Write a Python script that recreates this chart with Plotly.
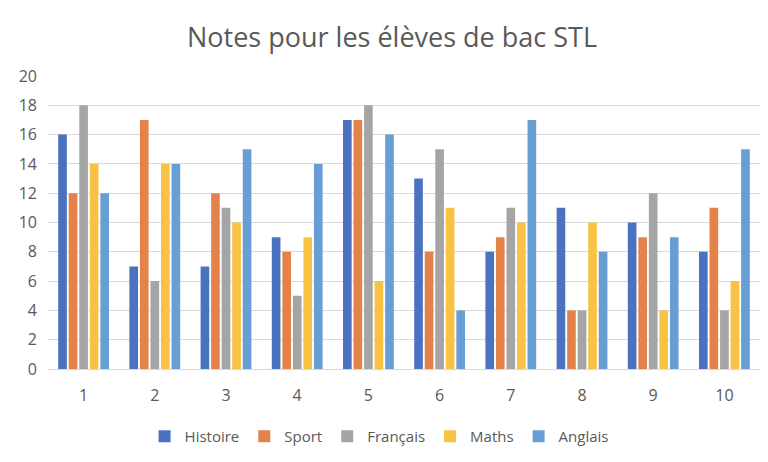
import plotly.graph_objects as go

eleves = ["1", "2", "3", "4", "5", "6", "7", "8", "9", "10"]
histoire = [16, 7, 7, 9, 17, 13, 8, 11, 10, 8]
sport = [12, 17, 12, 8, 17, 8, 9, 4, 9, 11]
francais = [18, 6, 11, 5, 18, 15, 11, 4, 12, 4]
maths = [14, 14, 10, 9, 6, 11, 10, 10, 4, 6]
anglais = [12, 14, 15, 14, 16, 4, 17, 8, 9, 15]

series = [
    ("Histoire", histoire, "#4A72C0"),
    ("Sport", sport, "#E5824A"),
    ("Français", francais, "#A5A5A5"),
    ("Maths", maths, "#F8C244"),
    ("Anglais", anglais, "#689ED4"),
]

fig = go.Figure()
for name, vals, color in series:
    fig.add_trace(go.Bar(x=eleves, y=vals, name=name, marker_color=color,
                         marker_line_width=0))

# la page a une marge de ~8px, on compense dans les marges
fig.update_layout(
    width=768, height=462,
    title=dict(text="Notes pour les élèves de bac STL", x=0.5, xanchor="center",
               y=0.935, yanchor="middle",
               font=dict(size=27, color="#595959")),
    font=dict(family="Open Sans", color="#595959", size=15),
    paper_bgcolor="white", plot_bgcolor="white",
    margin=dict(l=40, r=16, t=68, b=101),
    barmode="group", bargap=0.26, bargroupgap=0.18,
    legend=dict(orientation="h", x=0.465, xanchor="center", y=-0.23, yanchor="middle",
                font=dict(size=15, color="#595959"), itemwidth=30),
    showlegend=True,
)
fig.update_yaxes(range=[0, 20], dtick=2, showgrid=True, gridcolor="#D9D9D9",
                 zeroline=False, showline=False, ticks="", ticklabelstandoff=10,
                 tickfont=dict(size=16))
fig.update_xaxes(showline=True, linecolor="#D9D9D9", ticks="", showgrid=False,
                 ticklabelstandoff=12, tickfont=dict(size=16))

fig.write_html("out.html")
